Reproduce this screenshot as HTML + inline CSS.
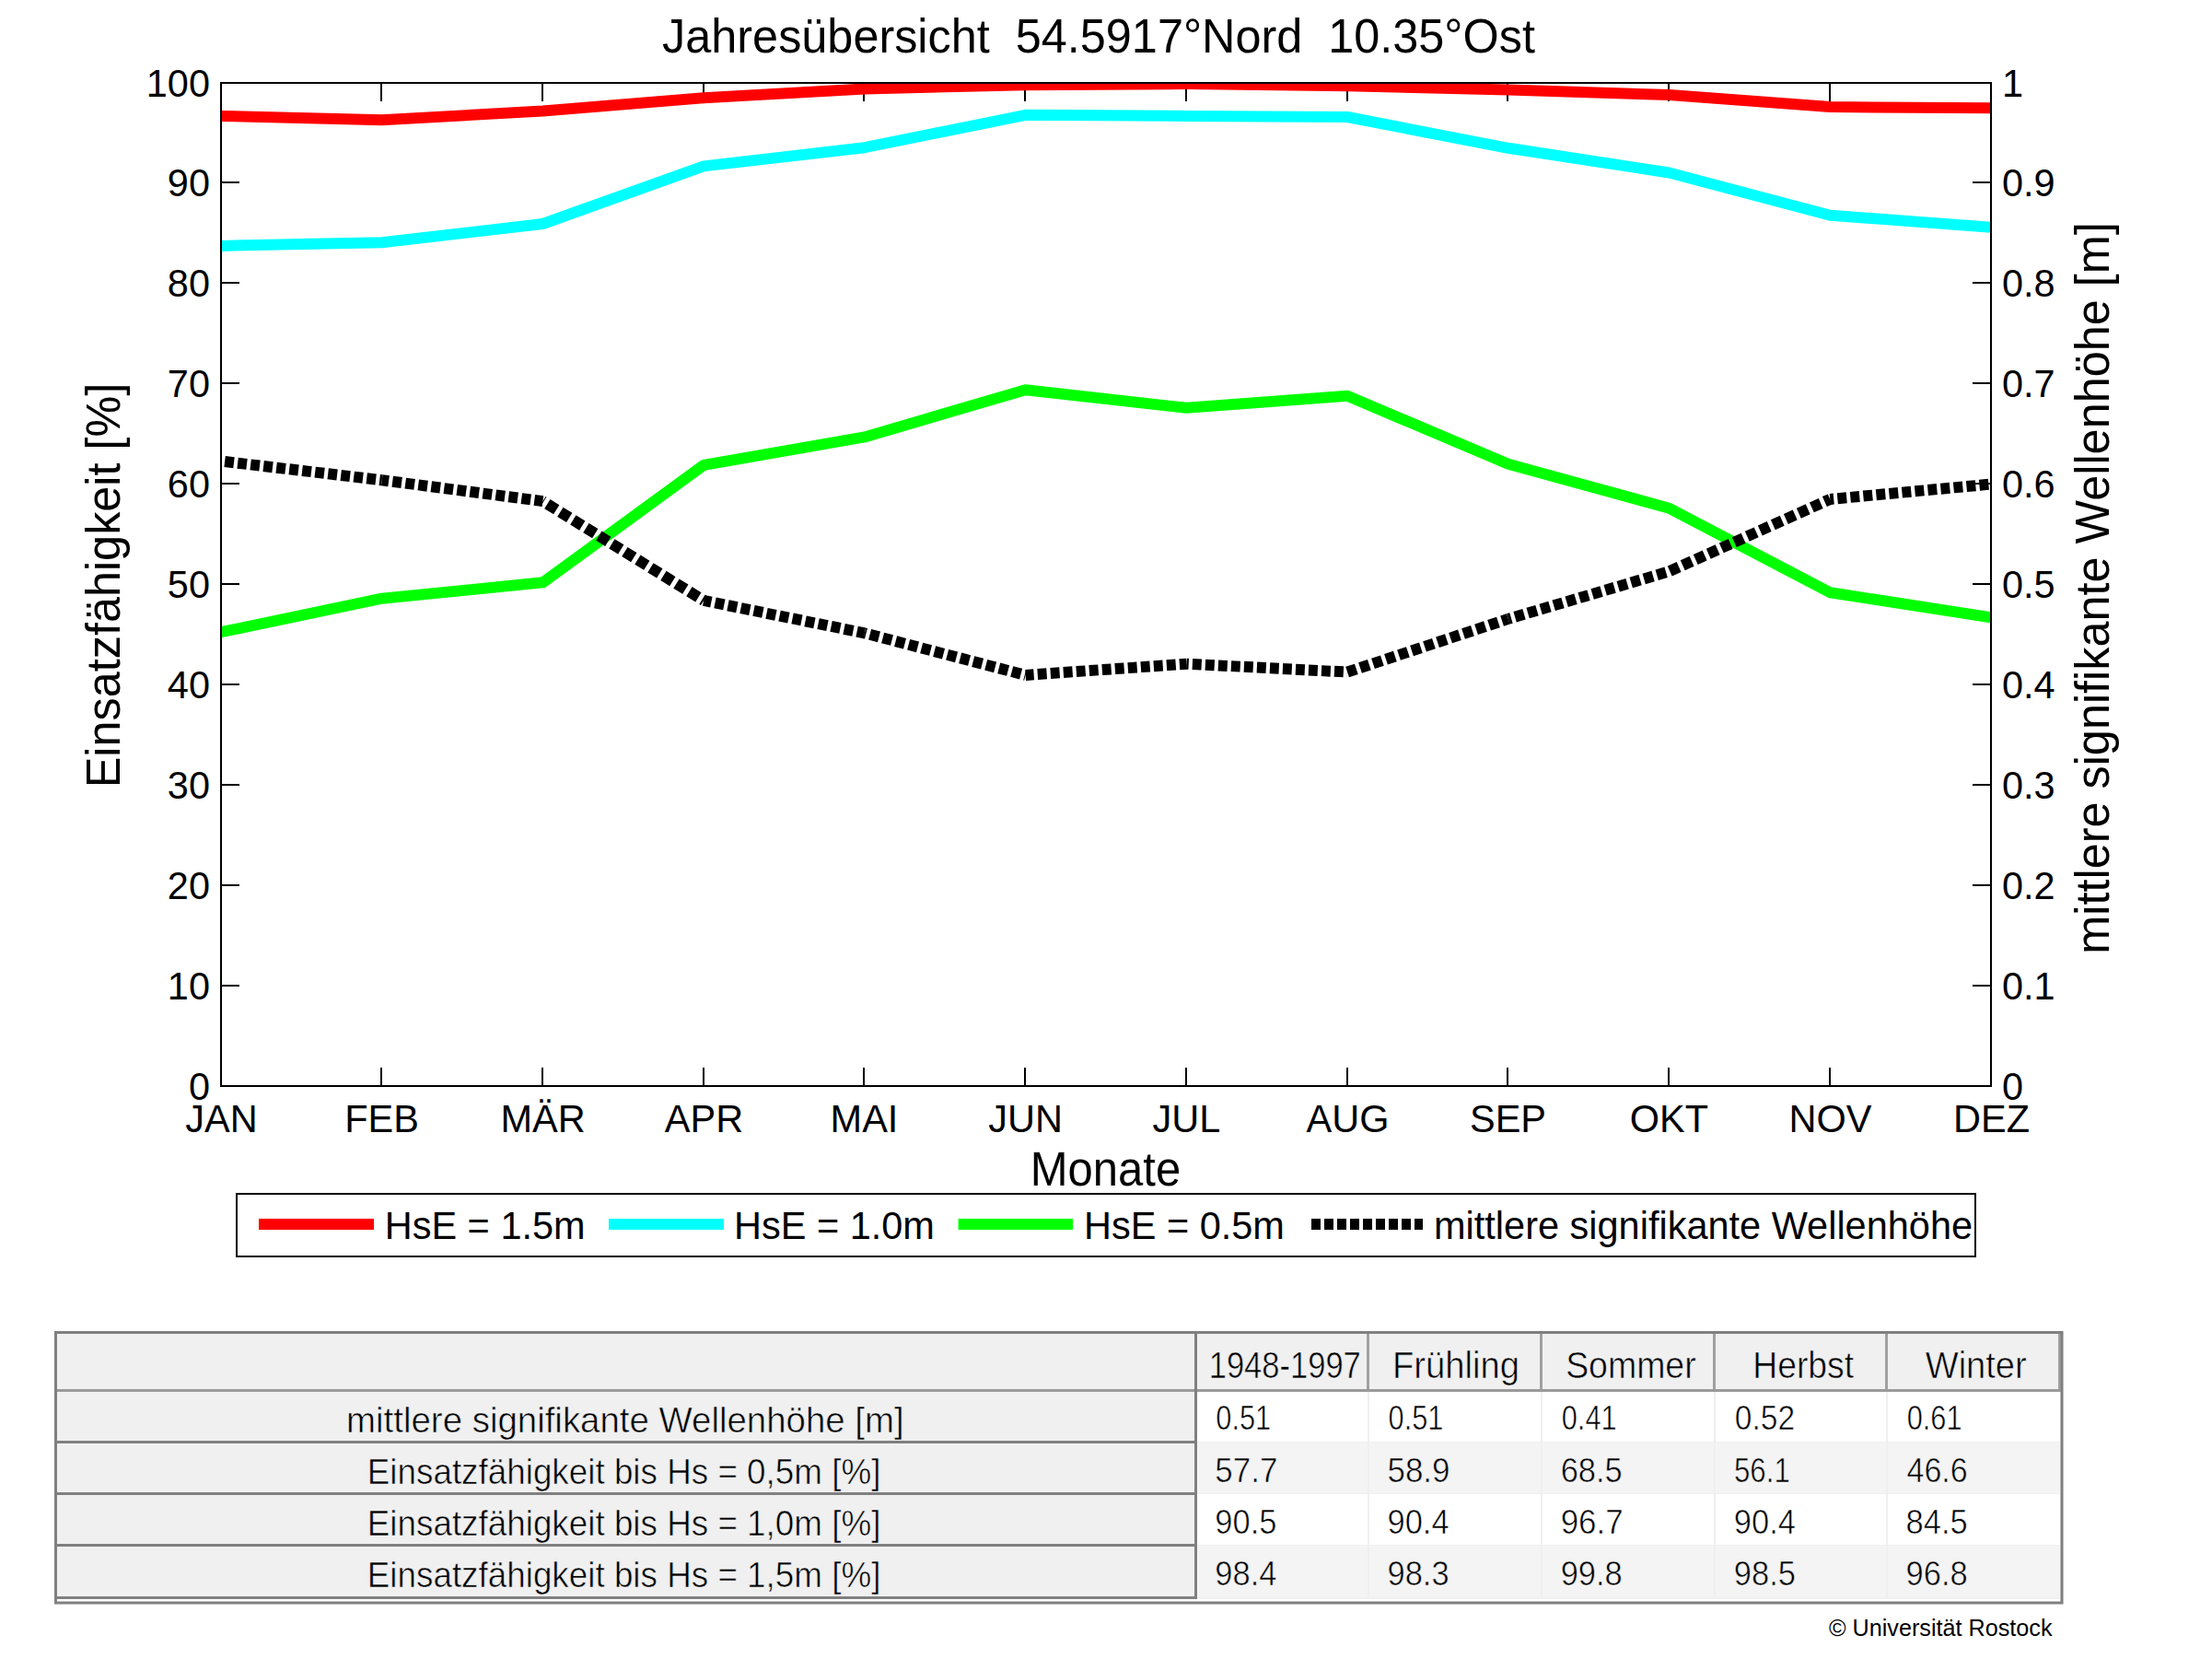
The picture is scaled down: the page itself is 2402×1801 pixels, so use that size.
<!DOCTYPE html><html><head><meta charset="utf-8"><style>html,body{margin:0;padding:0;background:#fff;overflow:hidden;}svg{display:block;}text{font-family:"Liberation Sans",sans-serif;}</style></head><body>
<svg width="2402" height="1801" viewBox="0 0 2402 1801">
<rect x="0" y="0" width="2402" height="1801" fill="#fff"/>
<defs><clipPath id="pc"><rect x="240" y="90" width="1922" height="1089"/></clipPath></defs>
<path d="M240 1179h20M2162 1179h-20M240 1070h20M2162 1070h-20M240 961h20M2162 961h-20M240 852h20M2162 852h-20M240 743h20M2162 743h-20M240 634h20M2162 634h-20M240 525h20M2162 525h-20M240 416h20M2162 416h-20M240 307h20M2162 307h-20M240 198h20M2162 198h-20M240 90h20M2162 90h-20M240 1179v-20M240 90v20M414 1179v-20M414 90v20M589 1179v-20M589 90v20M764 1179v-20M764 90v20M938 1179v-20M938 90v20M1113 1179v-20M1113 90v20M1288 1179v-20M1288 90v20M1463 1179v-20M1463 90v20M1637 1179v-20M1637 90v20M1812 1179v-20M1812 90v20M1987 1179v-20M1987 90v20M2162 1179v-20M2162 90v20" stroke="#000" stroke-width="2" fill="none"/>
<g clip-path="url(#pc)" fill="none" stroke-linejoin="round">
<polyline points="240.0,125.9 414.7,130.3 589.5,120.5 764.2,106.3 938.9,96.5 1113.6,92.2 1288.4,91.1 1463.1,93.3 1637.8,97.6 1812.5,103.1 1987.3,116.1 2162.0,117.2" stroke="#ff0000" stroke-width="12"/>
<polyline points="240.0,266.9 414.7,263.2 589.5,243.0 764.2,180.4 938.9,160.2 1113.6,124.8 1288.4,125.9 1463.1,127.0 1637.8,160.8 1812.5,187.5 1987.3,233.7 2162.0,246.8" stroke="#00ffff" stroke-width="12"/>
<polyline points="240.0,686.2 414.7,649.7 589.5,632.3 764.2,504.9 938.9,474.4 1113.6,423.2 1288.4,442.8 1463.1,429.8 1637.8,503.8 1812.5,551.7 1987.3,643.2 2162.0,670.4" stroke="#00ff00" stroke-width="12"/>
<g stroke="#000" stroke-width="12" stroke-linecap="butt"><path d="M240.00 500.55L414.73 521.24" stroke-dasharray="9.969 4.139" stroke-dashoffset="9.979"/><path d="M414.73 521.24L589.45 544.11" stroke-dasharray="9.984 4.145" stroke-dashoffset="2.529"/><path d="M589.45 544.11L764.18 651.92" stroke-dasharray="11.633 4.829" stroke-dashoffset="10.710"/><path d="M764.18 651.92L938.91 687.32" stroke-dasharray="10.101 4.193" stroke-dashoffset="1.747"/><path d="M938.91 687.32L1113.64 732.95" stroke-dasharray="10.232 4.248" stroke-dashoffset="8.598"/><path d="M1113.64 732.95L1288.36 720.64" stroke-dasharray="9.925 4.120" stroke-dashoffset="0.919"/><path d="M1288.36 720.64L1463.09 729.57" stroke-dasharray="9.913 4.115" stroke-dashoffset="7.533"/><path d="M1463.09 729.57L1637.82 671.85" stroke-dasharray="10.426 4.328" stroke-dashoffset="0.127"/><path d="M1637.82 671.85L1812.55 620.34" stroke-dasharray="10.321 4.285" stroke-dashoffset="7.014"/><path d="M1812.55 620.34L1987.27 541.94" stroke-dasharray="10.851 4.505" stroke-dashoffset="14.617"/><path d="M1987.27 541.94L2162.00 525.60" stroke-dasharray="9.943 4.128" stroke-dashoffset="5.959"/></g>
</g>
<rect x="240" y="90" width="1922" height="1089" fill="none" stroke="#000" stroke-width="2"/>
<text transform="translate(228,1194) scale(1,1.045)" font-size="41.5" text-anchor="end">0</text>
<text transform="translate(2174,1194) scale(1,1.045)" font-size="41.5">0</text>
<text transform="translate(228,1085) scale(1,1.045)" font-size="41.5" text-anchor="end">10</text>
<text transform="translate(2174,1085) scale(1,1.045)" font-size="41.5">0.1</text>
<text transform="translate(228,976) scale(1,1.045)" font-size="41.5" text-anchor="end">20</text>
<text transform="translate(2174,976) scale(1,1.045)" font-size="41.5">0.2</text>
<text transform="translate(228,867) scale(1,1.045)" font-size="41.5" text-anchor="end">30</text>
<text transform="translate(2174,867) scale(1,1.045)" font-size="41.5">0.3</text>
<text transform="translate(228,758) scale(1,1.045)" font-size="41.5" text-anchor="end">40</text>
<text transform="translate(2174,758) scale(1,1.045)" font-size="41.5">0.4</text>
<text transform="translate(228,649) scale(1,1.045)" font-size="41.5" text-anchor="end">50</text>
<text transform="translate(2174,649) scale(1,1.045)" font-size="41.5">0.5</text>
<text transform="translate(228,540) scale(1,1.045)" font-size="41.5" text-anchor="end">60</text>
<text transform="translate(2174,540) scale(1,1.045)" font-size="41.5">0.6</text>
<text transform="translate(228,431) scale(1,1.045)" font-size="41.5" text-anchor="end">70</text>
<text transform="translate(2174,431) scale(1,1.045)" font-size="41.5">0.7</text>
<text transform="translate(228,322) scale(1,1.045)" font-size="41.5" text-anchor="end">80</text>
<text transform="translate(2174,322) scale(1,1.045)" font-size="41.5">0.8</text>
<text transform="translate(228,213) scale(1,1.045)" font-size="41.5" text-anchor="end">90</text>
<text transform="translate(2174,213) scale(1,1.045)" font-size="41.5">0.9</text>
<text transform="translate(228,105) scale(1,1.045)" font-size="41.5" text-anchor="end">100</text>
<text transform="translate(2174,105) scale(1,1.045)" font-size="41.5">1</text>
<text transform="translate(240.5,1229) scale(1,1.045)" font-size="41.5" text-anchor="middle">JAN</text>
<text transform="translate(414.5,1229) scale(1,1.045)" font-size="41.5" text-anchor="middle">FEB</text>
<text transform="translate(589.5,1229) scale(1,1.045)" font-size="41.5" text-anchor="middle">MÄR</text>
<text transform="translate(764.5,1229) scale(1,1.045)" font-size="41.5" text-anchor="middle">APR</text>
<text transform="translate(938.5,1229) scale(1,1.045)" font-size="41.5" text-anchor="middle">MAI</text>
<text transform="translate(1113.5,1229) scale(1,1.045)" font-size="41.5" text-anchor="middle">JUN</text>
<text transform="translate(1288.5,1229) scale(1,1.045)" font-size="41.5" text-anchor="middle">JUL</text>
<text transform="translate(1463.5,1229) scale(1,1.045)" font-size="41.5" text-anchor="middle">AUG</text>
<text transform="translate(1637.5,1229) scale(1,1.045)" font-size="41.5" text-anchor="middle">SEP</text>
<text transform="translate(1812.5,1229) scale(1,1.045)" font-size="41.5" text-anchor="middle">OKT</text>
<text transform="translate(1987.5,1229) scale(1,1.045)" font-size="41.5" text-anchor="middle">NOV</text>
<text transform="translate(2162.5,1229) scale(1,1.045)" font-size="41.5" text-anchor="middle">DEZ</text>
<text transform="translate(1193,57) scale(1,1.045)" font-size="50.4" text-anchor="middle" xml:space="preserve">Jahresübersicht  54.5917°Nord  10.35°Ost</text>
<text transform="translate(1200.5,1287) scale(1,1.045)" font-size="49" text-anchor="middle">Monate</text>
<text transform="translate(130,635.5) rotate(-90) scale(1,1.045)" font-size="50.4" text-anchor="middle">Einsatzfähigkeit [%]</text>
<text transform="translate(2290,638.5) rotate(-90) scale(1,1.045)" font-size="50.4" text-anchor="middle">mittlere signifikante Wellenhöhe [m]</text>
<rect x="257" y="1296" width="1888" height="68" fill="#fff" stroke="#000" stroke-width="2"/>
<path d="M281 1329H406" stroke="#ff0000" stroke-width="12"/>
<path d="M661 1329H786" stroke="#00ffff" stroke-width="12"/>
<path d="M1040.6 1329H1165" stroke="#00ff00" stroke-width="12"/>
<path d="M1424 1329H1545" stroke="#000" stroke-width="12" stroke-dasharray="10 4"/>
<text transform="translate(417.7,1345) scale(1,1.045)" font-size="41.5">HsE = 1.5m</text>
<text transform="translate(797,1345) scale(1,1.045)" font-size="41.5">HsE = 1.0m</text>
<text transform="translate(1177,1345) scale(1,1.045)" font-size="41.5">HsE = 0.5m</text>
<text transform="translate(1557,1345) scale(1,1.045)" font-size="41.5">mittlere signifikante Wellenhöhe</text>
<rect x="59" y="1445" width="2181.5" height="296.5" fill="#f0f0f0"/>
<rect x="1300" y="1510" width="937" height="55" fill="#ffffff"/>
<rect x="1300" y="1566" width="937" height="55" fill="#f4f4f4"/>
<rect x="1300" y="1622" width="937" height="55" fill="#ffffff"/>
<rect x="1300" y="1678" width="937" height="56" fill="#f4f4f4"/>
<rect x="1485" y="1511" width="2" height="223" fill="#efefef"/>
<rect x="1673" y="1511" width="2" height="223" fill="#efefef"/>
<rect x="1861" y="1511" width="2" height="223" fill="#efefef"/>
<rect x="2048" y="1511" width="2" height="223" fill="#efefef"/>
<rect x="1484" y="1448" width="3" height="63" fill="#a0a0a0"/>
<rect x="1672" y="1448" width="3" height="63" fill="#a0a0a0"/>
<rect x="1860" y="1448" width="3" height="63" fill="#a0a0a0"/>
<rect x="2047" y="1448" width="3" height="63" fill="#a0a0a0"/>
<rect x="2235" y="1448" width="3" height="63" fill="#a0a0a0"/>
<rect x="62" y="1508" width="2175" height="3" fill="#9a9a9a"/>
<rect x="62" y="1564" width="1236" height="3" fill="#808080"/>
<rect x="62" y="1620" width="1236" height="3" fill="#808080"/>
<rect x="62" y="1676" width="1236" height="3" fill="#808080"/>
<rect x="62" y="1733" width="1236" height="3" fill="#808080"/>
<rect x="1297" y="1448" width="3" height="288" fill="#808080"/>
<rect x="62" y="1736" width="2175" height="3" fill="#fff"/>
<rect x="60.5" y="1446.5" width="2178.5" height="293.5" fill="none" stroke="#808080" stroke-width="3"/>
<text x="1312.71" y="1495.50" font-size="40" textLength="165.07" lengthAdjust="spacingAndGlyphs" stroke="#f0f0f0" stroke-width="0.6">1948-1997</text>
<text x="1511.93" y="1495.50" font-size="40" textLength="138.07" lengthAdjust="spacingAndGlyphs" stroke="#f0f0f0" stroke-width="0.6">Frühling</text>
<text x="1700.13" y="1495.50" font-size="40" textLength="141.50" lengthAdjust="spacingAndGlyphs" stroke="#f0f0f0" stroke-width="0.6">Sommer</text>
<text x="1903.20" y="1495.50" font-size="40" textLength="109.92" lengthAdjust="spacingAndGlyphs" stroke="#f0f0f0" stroke-width="0.6">Herbst</text>
<text x="2090.70" y="1495.50" font-size="40" textLength="110.05" lengthAdjust="spacingAndGlyphs" stroke="#f0f0f0" stroke-width="0.6">Winter</text>
<text x="376.08" y="1554.50" font-size="39.5" textLength="605.62" lengthAdjust="spacingAndGlyphs" stroke="#f0f0f0" stroke-width="0.6">mittlere signifikante Wellenhöhe [m]</text>
<text x="398.80" y="1611.20" font-size="39.5" textLength="557.59" lengthAdjust="spacingAndGlyphs" stroke="#f0f0f0" stroke-width="0.6">Einsatzfähigkeit bis Hs = 0,5m [%]</text>
<text x="398.80" y="1667.20" font-size="39.5" textLength="557.59" lengthAdjust="spacingAndGlyphs" stroke="#f0f0f0" stroke-width="0.6">Einsatzfähigkeit bis Hs = 1,0m [%]</text>
<text x="398.80" y="1723.30" font-size="39.5" textLength="557.59" lengthAdjust="spacingAndGlyphs" stroke="#f0f0f0" stroke-width="0.6">Einsatzfähigkeit bis Hs = 1,5m [%]</text>
<text x="1320.36" y="1551.70" font-size="36.5" textLength="59.87" lengthAdjust="spacingAndGlyphs" stroke="#ffffff" stroke-width="0.6">0.51</text>
<text x="1507.56" y="1551.70" font-size="36.5" textLength="59.87" lengthAdjust="spacingAndGlyphs" stroke="#ffffff" stroke-width="0.6">0.51</text>
<text x="1695.76" y="1551.70" font-size="36.5" textLength="59.87" lengthAdjust="spacingAndGlyphs" stroke="#ffffff" stroke-width="0.6">0.41</text>
<text x="1883.78" y="1551.70" font-size="36.5" textLength="65.30" lengthAdjust="spacingAndGlyphs" stroke="#ffffff" stroke-width="0.6">0.52</text>
<text x="2070.66" y="1551.70" font-size="36.5" textLength="59.87" lengthAdjust="spacingAndGlyphs" stroke="#ffffff" stroke-width="0.6">0.61</text>
<text x="1319.28" y="1608.60" font-size="36.5" textLength="68.08" lengthAdjust="spacingAndGlyphs" stroke="#f4f4f4" stroke-width="0.6">57.7</text>
<text x="1506.48" y="1608.60" font-size="36.5" textLength="68.08" lengthAdjust="spacingAndGlyphs" stroke="#f4f4f4" stroke-width="0.6">58.9</text>
<text x="1694.71" y="1608.60" font-size="36.5" textLength="67.08" lengthAdjust="spacingAndGlyphs" stroke="#f4f4f4" stroke-width="0.6">68.5</text>
<text x="1882.99" y="1608.60" font-size="36.5" textLength="60.76" lengthAdjust="spacingAndGlyphs" stroke="#f4f4f4" stroke-width="0.6">56.1</text>
<text x="2070.57" y="1608.60" font-size="36.5" textLength="66.10" lengthAdjust="spacingAndGlyphs" stroke="#f4f4f4" stroke-width="0.6">46.6</text>
<text x="1319.31" y="1664.70" font-size="36.5" textLength="67.08" lengthAdjust="spacingAndGlyphs" stroke="#ffffff" stroke-width="0.6">90.5</text>
<text x="1506.51" y="1664.70" font-size="36.5" textLength="67.08" lengthAdjust="spacingAndGlyphs" stroke="#ffffff" stroke-width="0.6">90.4</text>
<text x="1694.68" y="1664.70" font-size="36.5" textLength="68.08" lengthAdjust="spacingAndGlyphs" stroke="#ffffff" stroke-width="0.6">96.7</text>
<text x="1882.81" y="1664.70" font-size="36.5" textLength="67.08" lengthAdjust="spacingAndGlyphs" stroke="#ffffff" stroke-width="0.6">90.4</text>
<text x="2069.61" y="1664.70" font-size="36.5" textLength="67.08" lengthAdjust="spacingAndGlyphs" stroke="#ffffff" stroke-width="0.6">84.5</text>
<text x="1319.31" y="1720.80" font-size="36.5" textLength="67.08" lengthAdjust="spacingAndGlyphs" stroke="#f4f4f4" stroke-width="0.6">98.4</text>
<text x="1506.51" y="1720.80" font-size="36.5" textLength="67.08" lengthAdjust="spacingAndGlyphs" stroke="#f4f4f4" stroke-width="0.6">98.3</text>
<text x="1694.71" y="1720.80" font-size="36.5" textLength="67.08" lengthAdjust="spacingAndGlyphs" stroke="#f4f4f4" stroke-width="0.6">99.8</text>
<text x="1882.81" y="1720.80" font-size="36.5" textLength="67.08" lengthAdjust="spacingAndGlyphs" stroke="#f4f4f4" stroke-width="0.6">98.5</text>
<text x="2069.61" y="1720.80" font-size="36.5" textLength="67.08" lengthAdjust="spacingAndGlyphs" stroke="#f4f4f4" stroke-width="0.6">96.8</text>
<text transform="translate(1986,1776) scale(1,1.045)" font-size="25.2">© Universität Rostock</text>
</svg></body></html>
